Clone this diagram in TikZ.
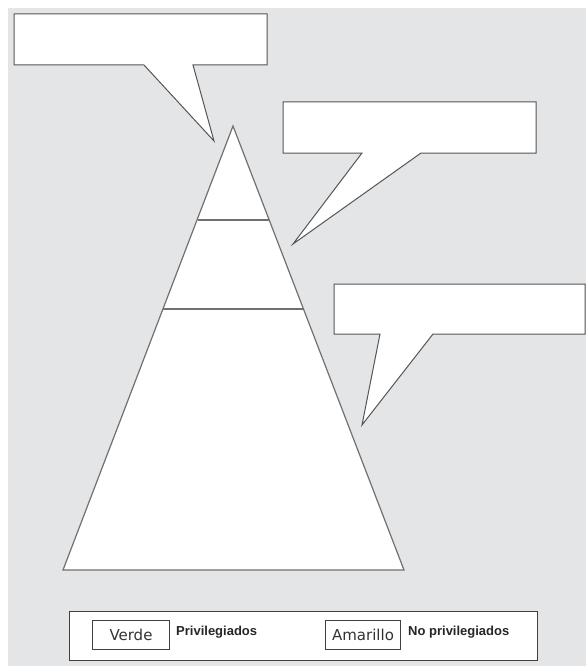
\documentclass[tikz,border=0pt]{standalone}
\usepackage{fontspec}
\setmainfont{DejaVu Sans}
\newfontfamily\labfont{Liberation Sans}
\definecolor{bggray}{HTML}{E4E5E7}
\definecolor{linegray}{HTML}{555555}
\definecolor{pyrline}{HTML}{707070}
\begin{document}
\begin{tikzpicture}[x=1pt,y=-1pt,
  callout/.style={fill=white,draw=linegray,line width=1pt,line join=miter},
  pyr/.style={fill=white,draw=pyrline,line width=1.2pt},
  legbox/.style={draw=black!75,line width=1pt,fill=white},
  keytext/.style={font=\fontsize{15}{15}\selectfont,inner sep=0pt,text=black!80},
  labtext/.style={font=\labfont\bfseries\fontsize{13}{13}\selectfont,inner sep=0pt,anchor=west,text=black!85}]
\useasboundingbox (0,0) rectangle (586,666);
\fill[white] (0,0) rectangle (586,666);
\fill[bggray] (8,8) rectangle (586,666);
% pyramid
\coordinate (apex) at (233,126);
\coordinate (bl) at (63,570);
\coordinate (br) at (404,570);
\draw[pyr] (apex) -- (br) -- (bl) -- cycle;
\coordinate (l1a) at (197.5,220);
\coordinate (l1b) at (268.5,220);
\coordinate (l2a) at (163,309);
\coordinate (l2b) at (303.5,309);
\draw[pyrline,line width=1.2pt] (l1a) -- (l1b);
\draw[pyrline,line width=1.2pt] (l2a) -- (l2b);
% callout 1
\coordinate (t1) at (214,141);
\draw[callout] (14,14) -- (267,14) -- (267,65) -- (193,65) -- (t1) -- (144,65) -- (14,65) -- cycle;
% callout 2
\coordinate (t2) at (293,244);
\draw[callout] (283,102) -- (536,102) -- (536,153) -- (421,153) -- (t2) -- (362,153) -- (283,153) -- cycle;
% callout 3
\coordinate (t3) at (362,425);
\draw[callout] (334,284) -- (585,284) -- (585,334) -- (433,334) -- (t3) -- (380,334) -- (334,334) -- cycle;
% legend
\draw[legbox] (69,611) rectangle (537,660);
\node[legbox,minimum width=77pt,minimum height=29pt,inner sep=0pt,anchor=north west] (verde) at (92,620) {};
\node[keytext] (verdet) at (verde.center) {Verde};
\node[labtext] (priv) at (176,632) {Privilegiados};
\node[legbox,minimum width=75pt,minimum height=29pt,inner sep=0pt,anchor=north west] (amar) at (325,620) {};
\node[keytext] (amart) at (amar.center) {Amarillo};
\node[labtext] (nopriv) at (408,632) {No privilegiados};
\end{tikzpicture}
\end{document}
